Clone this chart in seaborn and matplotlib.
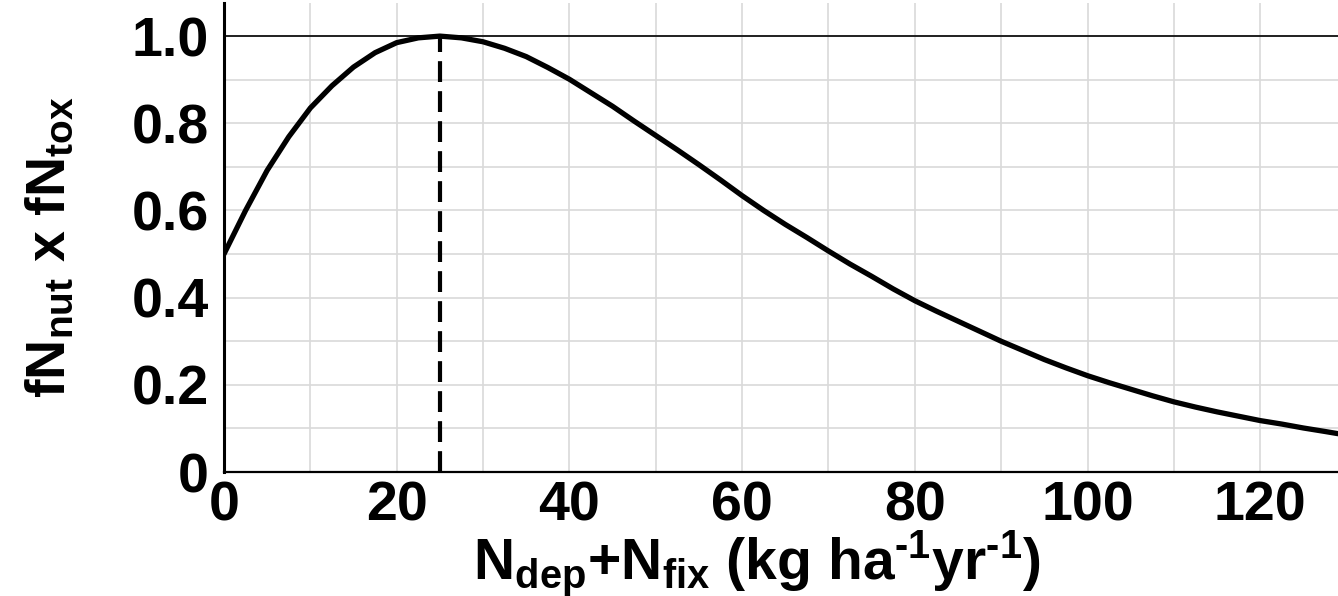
import numpy as np
import pandas as pd
import matplotlib
matplotlib.use("Agg")
import matplotlib.pyplot as plt
import seaborn as sns

# values (every 2.5 kg ha-1 yr-1)
n_input = [0, 2.5, 5, 7.5, 10, 12.5, 15, 17.5, 20, 22.5, 25, 27.5, 30, 32.5, 35, 37.5,
           40, 42.5, 45, 47.5, 50, 52.5, 55, 57.5, 60, 62.5, 65, 67.5, 70, 72.5, 75,
           77.5, 80, 82.5, 85, 87.5, 90, 92.5, 95, 97.5, 100, 102.5, 105, 107.5, 110,
           112.5, 115, 117.5, 120, 122.5, 125, 127.5, 129]
f_product = [0.500, 0.600, 0.692, 0.769, 0.835, 0.886, 0.929, 0.962, 0.985, 0.996, 1.000,
             0.996, 0.987, 0.972, 0.953, 0.928, 0.901, 0.870, 0.839, 0.805, 0.772, 0.739,
             0.705, 0.670, 0.634, 0.600, 0.568, 0.538, 0.507, 0.477, 0.449, 0.420, 0.393,
             0.369, 0.346, 0.323, 0.300, 0.279, 0.258, 0.239, 0.221, 0.205, 0.190, 0.175,
             0.161, 0.149, 0.138, 0.128, 0.118, 0.110, 0.101, 0.093, 0.088]

x_ticks = [0, 20, 40, 60, 80, 100, 120]
y_ticks = [0, 0.2, 0.4, 0.6, 0.8, 1.0]
y_tick_labels = ["0", "0.2", "0.4", "0.6", "0.8", "1.0"]

df = pd.DataFrame({"n": n_input, "f": f_product})
peak = df.loc[df["f"].idxmax()]

sns.set_style("white")
plt.rcParams["font.family"] = ["Liberation Sans", "DejaVu Sans"]
plt.rcParams["font.weight"] = "bold"
plt.rcParams["text.color"] = "black"
plt.rcParams["axes.labelcolor"] = "black"
plt.rcParams["mathtext.fontset"] = "custom"
plt.rcParams["mathtext.rm"] = "Liberation Sans:bold"
plt.rcParams["mathtext.it"] = "Liberation Sans:bold"
plt.rcParams["mathtext.bf"] = "Liberation Sans:bold"

fig = plt.figure(figsize=(13.38, 5.96), dpi=100)
ax = fig.add_axes([0.1674, 0.208, 0.8326, 0.787])

sns.lineplot(data=df, x="n", y="f", color="black", linewidth=3.8, ax=ax, zorder=4)

# optimum marker
ax.plot([peak["n"], peak["n"]], [0, peak["f"]], color="black", linewidth=3,
        dashes=(5, 2.2), zorder=3)
ax.axhline(1.0, color="black", linewidth=1.2, zorder=3)

ax.set_xlim(0, 129)
ax.set_ylim(0, 1.076)
ax.set_xticks(x_ticks)
ax.set_xticks(np.arange(0, 130, 10), minor=True)
ax.set_yticks(y_ticks)
ax.set_yticklabels(y_tick_labels)
ax.set_yticks(np.arange(0, 1.05, 0.1), minor=True)

ax.grid(True, which="both", color="#d9d9d9", linewidth=1.2, zorder=0)
ax.set_axisbelow(True)

for s in ["top", "right"]:
    ax.spines[s].set_visible(False)
ax.spines["left"].set_linewidth(2.2)
ax.spines["bottom"].set_linewidth(1.6)
ax.spines["left"].set_color("black")
ax.spines["bottom"].set_color("black")

ax.tick_params(axis="y", which="both", direction="inout", length=16, width=1.8,
               labelsize=40, pad=3, colors="black")
ax.tick_params(axis="x", which="both", direction="in", length=7, width=1.5,
               labelsize=40, pad=6, colors="black")
for lab in ax.get_xticklabels() + ax.get_yticklabels():
    lab.set_fontweight("bold")

ax.set_xlabel(r"N$_{\rm dep}$+N$_{\rm fix}$ (kg ha$^{\text{-}1}$yr$^{\text{-}1}$)",
              fontsize=41, fontweight="bold", color="black")
ax.xaxis.label.set_va("baseline")
ax.xaxis.set_label_coords(0.478, -0.228)

ax.set_ylabel(r"fN$_{\rm nut}$ x fN$_{\rm tox}$", fontsize=40, fontweight="bold",
              color="black")
ax.yaxis.set_label_coords(-0.132, 0.48)

fig.savefig("out.png", dpi=100)
